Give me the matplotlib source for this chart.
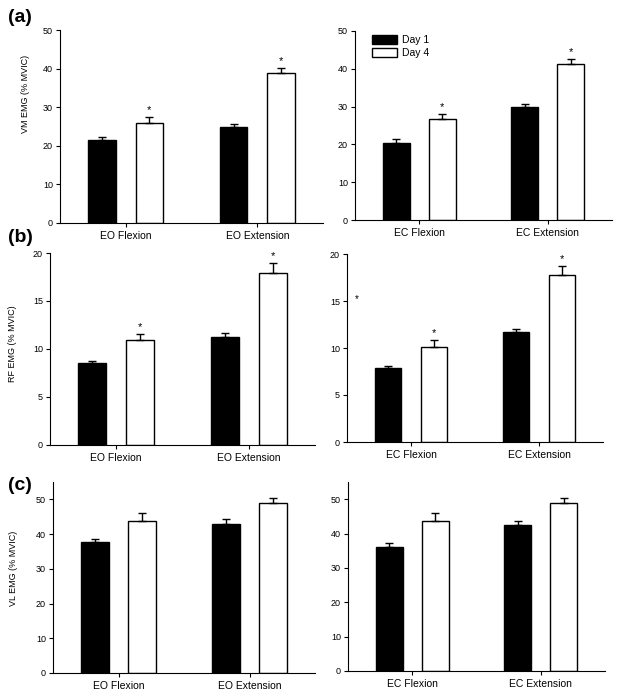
import matplotlib
matplotlib.use("Agg")
import matplotlib.pyplot as plt
from matplotlib.patches import Patch

plt.rcParams['font.family'] = ['Liberation Sans', 'DejaVu Sans']

eo_cats = ['EO Flexion', 'EO Extension']
ec_cats = ['EC Flexion', 'EC Extension']
series_names = ['Day 1', 'Day 4']

# (a) VM
vm_eo_day1 = [21.5, 24.9]; vm_eo_day1_err = [0.9, 0.7]
vm_eo_day4 = [26.0, 38.8]; vm_eo_day4_err = [1.5, 1.3]
vm_ec_day1 = [20.4, 29.9]; vm_ec_day1_err = [0.9, 0.9]
vm_ec_day4 = [26.6, 41.2]; vm_ec_day4_err = [1.4, 1.5]
# (b) RF
rf_eo_day1 = [8.5, 11.3]; rf_eo_day1_err = [0.2, 0.35]
rf_eo_day4 = [10.9, 17.9]; rf_eo_day4_err = [0.7, 1.05]
rf_ec_day1 = [7.9, 11.65]; rf_ec_day1_err = [0.2, 0.35]
rf_ec_day4 = [10.15, 17.75]; rf_ec_day4_err = [0.75, 0.95]
# (c) VL
vl_eo_day1 = [37.8, 43.0]; vl_eo_day1_err = [0.9, 1.3]
vl_eo_day4 = [43.8, 49.0]; vl_eo_day4_err = [2.2, 1.3]
vl_ec_day1 = [36.2, 42.6]; vl_ec_day1_err = [1.1, 1.1]
vl_ec_day4 = [43.7, 48.9]; vl_ec_day4_err = [2.3, 1.4]

vm_ticks = [0, 10, 20, 30, 40, 50]
rf_ticks = [0, 5, 10, 15, 20]
vl_ticks = [0, 10, 20, 30, 40, 50]

W, H = 624, 697
fig = plt.figure(figsize=(W/100, H/100), dpi=100)

def rect(x0, y0, x1, y1):
    return [x0/W, 1 - y1/H, (x1-x0)/W, (y1-y0)/H]

panels = [
    (rect(60, 30, 323, 223), eo_cats, vm_eo_day1, vm_eo_day1_err, vm_eo_day4, vm_eo_day4_err, 50, vm_ticks, 'VM EMG (% MVIC)', True, (-0.114, 0.67)),
    (rect(355, 31, 612, 220), ec_cats, vm_ec_day1, vm_ec_day1_err, vm_ec_day4, vm_ec_day4_err, 50, vm_ticks, None, True, None),
    (rect(50, 253, 315, 445), eo_cats, rf_eo_day1, rf_eo_day1_err, rf_eo_day4, rf_eo_day4_err, 20, rf_ticks, 'RF EMG (% MVIC)', True, (-0.125, 0.53)),
    (rect(347, 254, 603, 442), ec_cats, rf_ec_day1, rf_ec_day1_err, rf_ec_day4, rf_ec_day4_err, 20, rf_ticks, None, True, None),
    (rect(53, 482, 315, 673), eo_cats, vl_eo_day1, vl_eo_day1_err, vl_eo_day4, vl_eo_day4_err, 55, vl_ticks, 'VL EMG (% MVIC)', False, (-0.134, 0.55)),
    (rect(348, 482, 605, 671), ec_cats, vl_ec_day1, vl_ec_day1_err, vl_ec_day4, vl_ec_day4_err, 55, vl_ticks, None, False, None),
]

centers = [0.5, 1.5]
off = 0.18
bw = 0.21
axes = []
for (r, cats, d1, d1e, d4, d4e, ytop, ticks, ylabel, stars, lp) in panels:
    ax = fig.add_axes(r)
    axes.append(ax)
    x1 = [c - off for c in centers]
    x4 = [c + off for c in centers]
    ax.bar(x1, d1, width=bw, color='black', edgecolor='black', linewidth=1, zorder=2)
    ax.bar(x4, d4, width=bw, color='white', edgecolor='black', linewidth=1, zorder=2)
    ax.errorbar(x1, d1, yerr=[[0]*len(d1), d1e], fmt='none', ecolor='black', elinewidth=1, capsize=3, capthick=1, zorder=3)
    ax.errorbar(x4, d4, yerr=[[0]*len(d4), d4e], fmt='none', ecolor='black', elinewidth=1, capsize=3, capthick=1, zorder=3)
    if stars:
        for x, v, e in zip(x4, d4, d4e):
            ax.text(x, v + e + ytop*0.01, '*', ha='center', va='bottom', fontsize=8)
    ax.set_xlim(0, 2)
    ax.set_ylim(0, ytop)
    ax.set_yticks(ticks)
    ax.set_xticks(centers)
    ax.set_xticklabels(cats)
    ax.spines['top'].set_visible(False)
    ax.spines['right'].set_visible(False)
    ax.spines['left'].set_linewidth(0.8)
    ax.spines['bottom'].set_linewidth(0.8)
    ax.tick_params(axis='y', labelsize=6.5, length=3, width=0.8, pad=2)
    ax.tick_params(axis='x', labelsize=7.5, length=3, width=0.8, pad=3)
    if ylabel:
        ax.set_ylabel(ylabel, fontsize=6.5)
        ax.yaxis.set_label_coords(*lp)

axes[1].legend(handles=[Patch(facecolor='black', edgecolor='black', label=series_names[0]),
                        Patch(facecolor='white', edgecolor='black', label=series_names[1])],
               loc='upper left', bbox_to_anchor=(0.05, 1.0), frameon=False, fontsize=7.5,
               handlelength=2.4, handleheight=0.9, labelspacing=0.3, borderaxespad=0, handletextpad=0.5)

# stray asterisk in panel (b) right
axes[3].text(0.06, 15.2, '*', ha='left', va='center', fontsize=7)

fig.text(8/W, 1 - 17/H, '(a)', fontsize=14, fontweight='bold', ha='left', va='center')
fig.text(8/W, 1 - 237/H, '(b)', fontsize=14, fontweight='bold', ha='left', va='center')
fig.text(8/W, 1 - 486/H, '(c)', fontsize=14, fontweight='bold', ha='left', va='center')

fig.savefig('out.png', dpi=100)
